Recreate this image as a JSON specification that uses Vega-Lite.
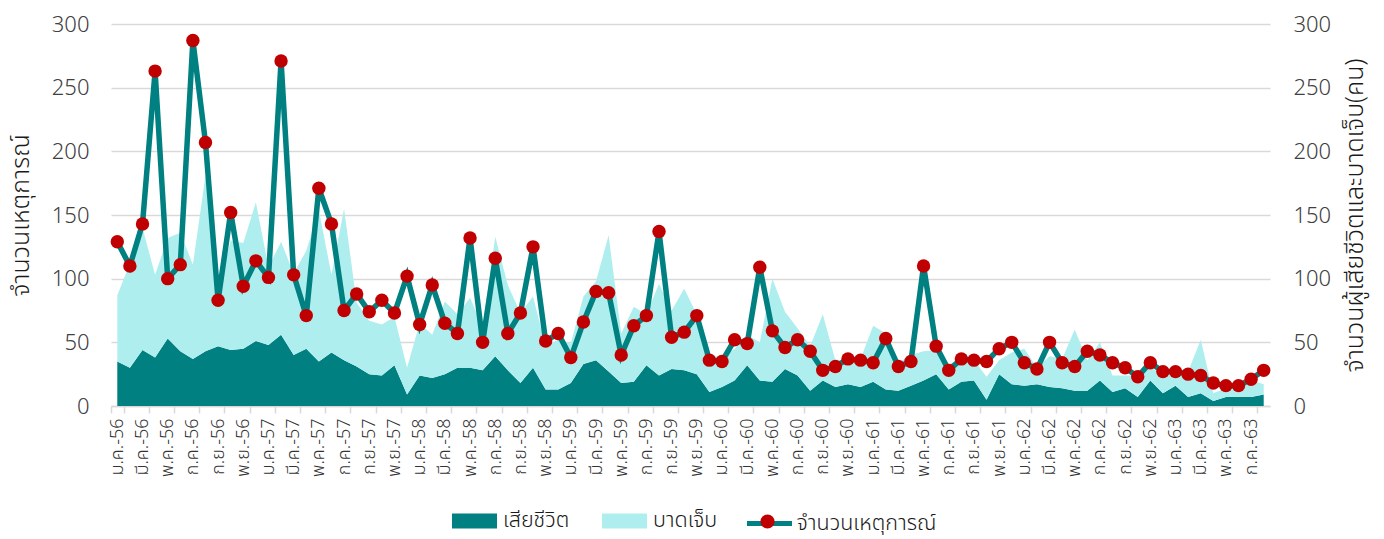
{
  "$schema": "https://vega.github.io/schema/vega-lite/v6.json",
  "width": 1159,
  "height": 382,
  "autosize": {"type": "none"},
  "padding": {"left": 111, "top": 24, "right": 114, "bottom": 133},
  "background": "white",
  "config": {
    "view": {"stroke": null},
    "font": "Noto Sans Thai, Noto Sans, sans-serif",
    "axis": {"labelFont": "Noto Sans Thai, Noto Sans, sans-serif", "titleFont": "Noto Sans Thai, Noto Sans, sans-serif", "labelFontWeight": 300, "titleFontWeight": 300},
    "legend": {"labelFont": "Noto Sans Thai, Noto Sans, sans-serif", "labelFontWeight": 300}
  },
  "data": {"values": [
    {"m": "ม.ค.-56", "e": 129, "เสียชีวิต": 35, "บาดเจ็บ": 52},
    {"m": "ก.พ.-56", "e": 110, "เสียชีวิต": 30, "บาดเจ็บ": 82},
    {"m": "มี.ค.-56", "e": 143, "เสียชีวิต": 44, "บาดเจ็บ": 96},
    {"m": "เม.ย.-56", "e": 263, "เสียชีวิต": 38, "บาดเจ็บ": 65},
    {"m": "พ.ค.-56", "e": 100, "เสียชีวิต": 53, "บาดเจ็บ": 79},
    {"m": "มิ.ย.-56", "e": 111, "เสียชีวิต": 43, "บาดเจ็บ": 93},
    {"m": "ก.ค.-56", "e": 287, "เสียชีวิต": 37, "บาดเจ็บ": 74},
    {"m": "ส.ค.-56", "e": 207, "เสียชีวิต": 43, "บาดเจ็บ": 138},
    {"m": "ก.ย.-56", "e": 83, "เสียชีวิต": 47, "บาดเจ็บ": 43},
    {"m": "ต.ค.-56", "e": 152, "เสียชีวิต": 44, "บาดเจ็บ": 86},
    {"m": "พ.ย.-56", "e": 94, "เสียชีวิต": 45, "บาดเจ็บ": 83},
    {"m": "ธ.ค.-56", "e": 114, "เสียชีวิต": 51, "บาดเจ็บ": 109},
    {"m": "ม.ค.-57", "e": 101, "เสียชีวิต": 48, "บาดเจ็บ": 61},
    {"m": "ก.พ.-57", "e": 271, "เสียชีวิต": 56, "บาดเจ็บ": 73},
    {"m": "มี.ค.-57", "e": 103, "เสียชีวิต": 40, "บาดเจ็บ": 64},
    {"m": "เม.ย.-57", "e": 71, "เสียชีวิต": 45, "บาดเจ็บ": 77},
    {"m": "พ.ค.-57", "e": 171, "เสียชีวิต": 35, "บาดเจ็บ": 119},
    {"m": "มิ.ย.-57", "e": 143, "เสียชีวิต": 42, "บาดเจ็บ": 61},
    {"m": "ก.ค.-57", "e": 75, "เสียชีวิต": 36, "บาดเจ็บ": 119},
    {"m": "ส.ค.-57", "e": 88, "เสียชีวิต": 31, "บาดเจ็บ": 50},
    {"m": "ก.ย.-57", "e": 74, "เสียชีวิต": 25, "บาดเจ็บ": 42},
    {"m": "ต.ค.-57", "e": 83, "เสียชีวิต": 24, "บาดเจ็บ": 40},
    {"m": "พ.ย.-57", "e": 73, "เสียชีวิต": 32, "บาดเจ็บ": 38},
    {"m": "ธ.ค.-57", "e": 102, "เสียชีวิต": 9, "บาดเจ็บ": 21},
    {"m": "ม.ค.-58", "e": 64, "เสียชีวิต": 24, "บาดเจ็บ": 41},
    {"m": "ก.พ.-58", "e": 95, "เสียชีวิต": 22, "บาดเจ็บ": 34},
    {"m": "มี.ค.-58", "e": 65, "เสียชีวิต": 25, "บาดเจ็บ": 57},
    {"m": "เม.ย.-58", "e": 57, "เสียชีวิต": 30, "บาดเจ็บ": 42},
    {"m": "พ.ค.-58", "e": 132, "เสียชีวิต": 30, "บาดเจ็บ": 55},
    {"m": "มิ.ย.-58", "e": 50, "เสียชีวิต": 28, "บาดเจ็บ": 34},
    {"m": "ก.ค.-58", "e": 116, "เสียชีวิต": 39, "บาดเจ็บ": 94},
    {"m": "ส.ค.-58", "e": 57, "เสียชีวิต": 28, "บาดเจ็บ": 67},
    {"m": "ก.ย.-58", "e": 73, "เสียชีวิต": 18, "บาดเจ็บ": 55},
    {"m": "ต.ค.-58", "e": 125, "เสียชีวิต": 30, "บาดเจ็บ": 56},
    {"m": "พ.ย.-58", "e": 51, "เสียชีวิต": 13, "บาดเจ็บ": 34},
    {"m": "ธ.ค.-58", "e": 57, "เสียชีวิต": 13, "บาดเจ็บ": 39},
    {"m": "ม.ค.-59", "e": 38, "เสียชีวิต": 18, "บาดเจ็บ": 31},
    {"m": "ก.พ.-59", "e": 66, "เสียชีวิต": 33, "บาดเจ็บ": 53},
    {"m": "มี.ค.-59", "e": 90, "เสียชีวิต": 36, "บาดเจ็บ": 62},
    {"m": "เม.ย.-59", "e": 89, "เสียชีวิต": 27, "บาดเจ็บ": 107},
    {"m": "พ.ค.-59", "e": 40, "เสียชีวิต": 18, "บาดเจ็บ": 39},
    {"m": "มิ.ย.-59", "e": 63, "เสียชีวิต": 19, "บาดเจ็บ": 59},
    {"m": "ก.ค.-59", "e": 71, "เสียชีวิต": 32, "บาดเจ็บ": 40},
    {"m": "ส.ค.-59", "e": 137, "เสียชีวิต": 24, "บาดเจ็บ": 72},
    {"m": "ก.ย.-59", "e": 54, "เสียชีวิต": 29, "บาดเจ็บ": 46},
    {"m": "ต.ค.-59", "e": 58, "เสียชีวิต": 28, "บาดเจ็บ": 64},
    {"m": "พ.ย.-59", "e": 71, "เสียชีวิต": 25, "บาดเจ็บ": 47},
    {"m": "ธ.ค.-59", "e": 36, "เสียชีวิต": 11, "บาดเจ็บ": 29},
    {"m": "ม.ค.-60", "e": 35, "เสียชีวิต": 15, "บาดเจ็บ": 23},
    {"m": "ก.พ.-60", "e": 52, "เสียชีวิต": 20, "บาดเจ็บ": 25},
    {"m": "มี.ค.-60", "e": 49, "เสียชีวิต": 32, "บาดเจ็บ": 24},
    {"m": "เม.ย.-60", "e": 109, "เสียชีวิต": 20, "บาดเจ็บ": 30},
    {"m": "พ.ค.-60", "e": 59, "เสียชีวิต": 19, "บาดเจ็บ": 81},
    {"m": "มิ.ย.-60", "e": 46, "เสียชีวิต": 29, "บาดเจ็บ": 45},
    {"m": "ก.ค.-60", "e": 52, "เสียชีวิต": 24, "บาดเจ็บ": 37},
    {"m": "ส.ค.-60", "e": 43, "เสียชีวิต": 12, "บาดเจ็บ": 35},
    {"m": "ก.ย.-60", "e": 28, "เสียชีวิต": 20, "บาดเจ็บ": 52},
    {"m": "ต.ค.-60", "e": 31, "เสียชีวิต": 15, "บาดเจ็บ": 21},
    {"m": "พ.ย.-60", "e": 37, "เสียชีวิต": 17, "บาดเจ็บ": 19},
    {"m": "ธ.ค.-60", "e": 36, "เสียชีวิต": 15, "บาดเจ็บ": 22},
    {"m": "ม.ค.-61", "e": 34, "เสียชีวิต": 19, "บาดเจ็บ": 44},
    {"m": "ก.พ.-61", "e": 53, "เสียชีวิต": 13, "บาดเจ็บ": 44},
    {"m": "มี.ค.-61", "e": 31, "เสียชีวิต": 12, "บาดเจ็บ": 22},
    {"m": "เม.ย.-61", "e": 35, "เสียชีวิต": 16, "บาดเจ็บ": 24},
    {"m": "พ.ค.-61", "e": 110, "เสียชีวิต": 20, "บาดเจ็บ": 23},
    {"m": "มิ.ย.-61", "e": 47, "เสียชีวิต": 25, "บาดเจ็บ": 19},
    {"m": "ก.ค.-61", "e": 28, "เสียชีวิต": 13, "บาดเจ็บ": 20},
    {"m": "ส.ค.-61", "e": 37, "เสียชีวิต": 19, "บาดเจ็บ": 17},
    {"m": "ก.ย.-61", "e": 36, "เสียชีวิต": 20, "บาดเจ็บ": 16},
    {"m": "ต.ค.-61", "e": 35, "เสียชีวิต": 5, "บาดเจ็บ": 18},
    {"m": "พ.ย.-61", "e": 45, "เสียชีวิต": 25, "บาดเจ็บ": 11},
    {"m": "ธ.ค.-61", "e": 50, "เสียชีวิต": 17, "บาดเจ็บ": 25},
    {"m": "ม.ค.-62", "e": 34, "เสียชีวิต": 16, "บาดเจ็บ": 29},
    {"m": "ก.พ.-62", "e": 29, "เสียชีวิต": 17, "บาดเจ็บ": 13},
    {"m": "มี.ค.-62", "e": 50, "เสียชีวิต": 15, "บาดเจ็บ": 24},
    {"m": "เม.ย.-62", "e": 34, "เสียชีวิต": 14, "บาดเจ็บ": 23},
    {"m": "พ.ค.-62", "e": 31, "เสียชีวิต": 12, "บาดเจ็บ": 48},
    {"m": "มิ.ย.-62", "e": 43, "เสียชีวิต": 12, "บาดเจ็บ": 24},
    {"m": "ก.ค.-62", "e": 40, "เสียชีวิต": 20, "บาดเจ็บ": 30},
    {"m": "ส.ค.-62", "e": 34, "เสียชีวิต": 11, "บาดเจ็บ": 13},
    {"m": "ก.ย.-62", "e": 30, "เสียชีวิต": 14, "บาดเจ็บ": 10},
    {"m": "ต.ค.-62", "e": 23, "เสียชีวิต": 7, "บาดเจ็บ": 17},
    {"m": "พ.ย.-62", "e": 34, "เสียชีวิต": 20, "บาดเจ็บ": 10},
    {"m": "ธ.ค.-62", "e": 27, "เสียชีวิต": 10, "บาดเจ็บ": 15},
    {"m": "ม.ค.-63", "e": 27, "เสียชีวิต": 16, "บาดเจ็บ": 9},
    {"m": "ก.พ.-63", "e": 25, "เสียชีวิต": 7, "บาดเจ็บ": 20},
    {"m": "มี.ค.-63", "e": 24, "เสียชีวิต": 10, "บาดเจ็บ": 42},
    {"m": "เม.ย.-63", "e": 18, "เสียชีวิต": 4, "บาดเจ็บ": 6},
    {"m": "พ.ค.-63", "e": 16, "เสียชีวิต": 7, "บาดเจ็บ": 7},
    {"m": "มิ.ย.-63", "e": 16, "เสียชีวิต": 7, "บาดเจ็บ": 7},
    {"m": "ก.ค.-63", "e": 21, "เสียชีวิต": 7, "บาดเจ็บ": 13},
    {"m": "ส.ค.-63", "e": 28, "เสียชีวิต": 9, "บาดเจ็บ": 8}
  ]},
  "encoding": {
    "x": {
      "field": "m", "type": "ordinal", "sort": null, "bandPosition": 0.5,
      "scale": {"type": "band", "paddingInner": 0, "paddingOuter": 0},
      "axis": {
        "title": null,
        "values": ["ม.ค.-56","มี.ค.-56","พ.ค.-56","ก.ค.-56","ก.ย.-56","พ.ย.-56","ม.ค.-57","มี.ค.-57","พ.ค.-57","ก.ค.-57","ก.ย.-57","พ.ย.-57","ม.ค.-58","มี.ค.-58","พ.ค.-58","ก.ค.-58","ก.ย.-58","พ.ย.-58","ม.ค.-59","มี.ค.-59","พ.ค.-59","ก.ค.-59","ก.ย.-59","พ.ย.-59","ม.ค.-60","มี.ค.-60","พ.ค.-60","ก.ค.-60","ก.ย.-60","พ.ย.-60","ม.ค.-61","มี.ค.-61","พ.ค.-61","ก.ค.-61","ก.ย.-61","พ.ย.-61","ม.ค.-62","มี.ค.-62","พ.ค.-62","ก.ค.-62","ก.ย.-62","พ.ย.-62","ม.ค.-63","มี.ค.-63","พ.ค.-63","ก.ค.-63"],
        "tickBand": "extent",
        "grid": false,
        "labelAngle": 270,
        "labelAlign": "right",
        "labelBaseline": "middle",
        "labelFontSize": 18,
        "labelColor": "#333333",
        "labelPadding": 5,
        "labelOverlap": false,
        "domainColor": "#D9D9D9",
        "domainWidth": 1.5,
        "tickColor": "#D9D9D9",
        "tickWidth": 1.5,
        "tickSize": 7
      }
    }
  },
  "layer": [
    {
      "transform": [{"fold": ["เสียชีวิต", "บาดเจ็บ"], "as": ["key", "value"]}],
      "mark": {"type": "area", "interpolate": "linear"},
      "encoding": {
        "y": {
          "field": "value", "type": "quantitative", "stack": "zero",
          "scale": {"domain": [0, 300]},
          "axis": {
            "orient": "right",
            "values": [0, 50, 100, 150, 200, 250, 300],
            "grid": false, "domain": false, "ticks": false,
            "labelFontSize": 22, "labelColor": "#404040", "labelPadding": 23,
            "title": "จำนวนผู้เสียชีวิตและบาดเจ็บ(คน)",
            "titleAngle": 270, "titleBaseline": "top",
            "titleFontSize": 25, "titleColor": "#1a1a1a",
            "titlePadding": 12
          }
        },
        "color": {
          "field": "key", "type": "nominal",
          "scale": {"domain": ["เสียชีวิต", "บาดเจ็บ"], "range": ["#008080", "#AFEEEE"]},
          "legend": {
            "title": null, "orient": "none", "direction": "horizontal",
            "legendX": 341, "legendY": 474.5, "padding": 0,
            "symbolType": "M-1,-0.333H1V0.333H-1Z", "symbolSize": 2025,
            "symbolStrokeWidth": 0, "symbolOpacity": 1,
            "labelFontSize": 21.5, "labelColor": "#1a1a1a", "labelOffset": 6,
            "columnPadding": 32
          }
        },
        "order": {"field": "key", "sort": "descending"}
      }
    },
    {
      "mark": {"type": "line", "strokeWidth": 5.5},
      "encoding": {
        "y": {
          "field": "e", "type": "quantitative",
          "scale": {"domain": [0, 300]},
          "axis": {
            "orient": "left",
            "values": [0, 50, 100, 150, 200, 250, 300],
            "grid": true, "gridColor": "#D9D9D9", "gridWidth": 1.5,
            "domain": false, "ticks": false,
            "labelFontSize": 22, "labelColor": "#404040", "labelPadding": 22,
            "title": "จำนวนเหตุการณ์",
            "titleFontSize": 25, "titleColor": "#1a1a1a",
            "titlePadding": 18
          }
        },
        "stroke": {
          "datum": "จำนวนเหตุการณ์",
          "scale": {"range": ["#008080"]},
          "legend": {
            "title": null, "orient": "none",
            "legendX": 633.5, "legendY": 474.5, "padding": 0,
            "symbolType": "M-1,0H1", "symbolSize": 2025, "symbolStrokeWidth": 5,
            "labelFontSize": 21.5, "labelColor": "#1a1a1a", "labelOffset": 2
          }
        }
      }
    },
    {
      "mark": {"type": "circle", "size": 180, "opacity": 1},
      "encoding": {
        "y": {"field": "e", "type": "quantitative", "scale": {"domain": [0, 300]}, "axis": null},
        "fill": {
          "datum": "dot",
          "scale": {"range": ["#C00000"]},
          "legend": {
            "title": null, "orient": "none", "zindex": 2,
            "legendX": 649, "legendY": 490, "padding": 0,
            "symbolType": "circle", "symbolSize": 200, "symbolStrokeWidth": 0, "symbolOpacity": 1,
            "labelExpr": "''", "labelFontSize": 10
          }
        }
      }
    }
  ],
  "resolve": {"axis": {"y": "independent"}}
}
